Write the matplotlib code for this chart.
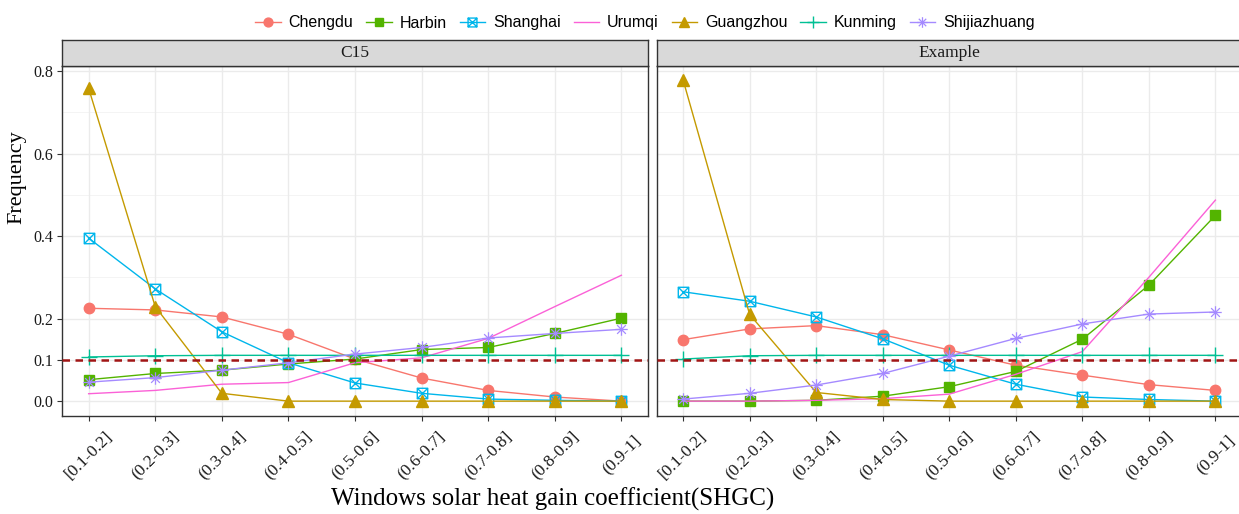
import matplotlib
matplotlib.use("Agg")
import matplotlib.pyplot as plt
import matplotlib.transforms as mtransforms
from matplotlib.path import Path

categories = ["[0.1-0.2]", "(0.2-0.3]", "(0.3-0.4]", "(0.4-0.5]", "(0.5-0.6]",
              "(0.6-0.7]", "(0.7-0.8]", "(0.8-0.9]", "(0.9-1]"]
cities = ["Chengdu", "Harbin", "Shanghai", "Urumqi", "Guangzhou", "Kunming", "Shijiazhuang"]

c15 = {
    "Chengdu":      [0.225, 0.221, 0.204, 0.162, 0.102, 0.056, 0.026, 0.010, 0.000],
    "Harbin":       [0.052, 0.067, 0.075, 0.090, 0.102, 0.125, 0.130, 0.164, 0.201],
    "Shanghai":     [0.395, 0.272, 0.168, 0.093, 0.044, 0.019, 0.005, 0.002, 0.000],
    "Urumqi":       [0.018, 0.026, 0.041, 0.045, 0.093, 0.105, 0.152, 0.229, 0.305],
    "Guangzhou":    [0.758, 0.229, 0.019, 0.000, 0.000, 0.000, 0.000, 0.000, 0.000],
    "Kunming":      [0.107, 0.110, 0.111, 0.111, 0.111, 0.111, 0.111, 0.111, 0.111],
    "Shijiazhuang": [0.046, 0.057, 0.075, 0.093, 0.114, 0.130, 0.153, 0.164, 0.174],
}
example = {
    "Chengdu":      [0.149, 0.175, 0.183, 0.161, 0.124, 0.087, 0.063, 0.040, 0.026],
    "Harbin":       [0.000, 0.000, 0.002, 0.012, 0.035, 0.072, 0.150, 0.281, 0.450],
    "Shanghai":     [0.265, 0.242, 0.204, 0.151, 0.087, 0.041, 0.010, 0.004, 0.000],
    "Urumqi":       [0.000, 0.000, 0.002, 0.006, 0.017, 0.065, 0.120, 0.300, 0.487],
    "Guangzhou":    [0.778, 0.210, 0.021, 0.004, 0.000, 0.000, 0.000, 0.000, 0.000],
    "Kunming":      [0.102, 0.110, 0.111, 0.111, 0.111, 0.111, 0.111, 0.111, 0.111],
    "Shijiazhuang": [0.005, 0.019, 0.039, 0.067, 0.109, 0.152, 0.187, 0.211, 0.216],
}
reference_level = 0.1

colors = {
    "Chengdu": "#F8766D", "Harbin": "#53B400", "Shanghai": "#00B6EB", "Urumqi": "#FB61D7",
    "Guangzhou": "#C49A00", "Kunming": "#00C094", "Shijiazhuang": "#A58AFF",
}

# square with a cross inside
box_x = Path([(-1, -1), (1, -1), (1, 1), (-1, 1), (-1, -1),
              (-1, -1), (1, 1), (-1, 1), (1, -1)],
             [Path.MOVETO, Path.LINETO, Path.LINETO, Path.LINETO, Path.CLOSEPOLY,
              Path.MOVETO, Path.LINETO, Path.MOVETO, Path.LINETO])
# eight-spoke asterisk
star8 = Path([(-1, 0), (1, 0), (0, -1), (0, 1), (-0.7, -0.7), (0.7, 0.7), (-0.7, 0.7), (0.7, -0.7)],
             [Path.MOVETO, Path.LINETO] * 4)

styles = {
    "Chengdu": dict(marker="o", ms=7.5),
    "Harbin": dict(marker="s", ms=7),
    "Shanghai": dict(marker=box_x, ms=7.5, mfc="none", mew=1.0),
    "Urumqi": dict(marker=""),
    "Guangzhou": dict(marker="^", ms=8.5),
    "Kunming": dict(marker="+", ms=11, mew=1.0),
    "Shijiazhuang": dict(marker=star8, ms=9, mew=0.9),
}

SERIF = ["Liberation Serif", "DejaVu Serif"]
SANS = ["Liberation Sans", "DejaVu Sans"]
W, H = 1239, 514
fig = plt.figure(figsize=(W / 100, H / 100), dpi=100)


def fx(px):
    return px / W


def fy(py):
    return 1 - py / H


panel_top, panel_bot, strip_top = 66, 416, 40
panels = [("C15", c15, 62, 648), ("Example", example, 656.5, 1242)]

handles = []
for i, (title, data, x0, x1) in enumerate(panels):
    ax = fig.add_axes([fx(x0), fy(panel_bot), fx(x1 - x0), (panel_bot - panel_top) / H])
    ax.set_facecolor("white")
    ax.set_xlim(-0.4, len(categories) - 0.6)
    ax.set_ylim(-0.036, 0.812)

    for y in [0.3, 0.5, 0.7]:
        ax.axhline(y, color="#F2F2F2", lw=0.6, zorder=0)
    for y in [0.0, 0.1, 0.2, 0.4, 0.6, 0.8]:
        ax.axhline(y, color="#EBEBEB", lw=1.0, zorder=0)
    for k in range(len(categories)):
        ax.axvline(k, color="#EBEBEB", lw=1.0, zorder=0)

    xs = range(len(categories))
    for city in cities:
        ln, = ax.plot(xs, data[city], color=colors[city], lw=1.0, zorder=3, **styles[city])
        if i == 0:
            handles.append(ln)

    ax.axhline(reference_level, color="#A11515", lw=1.8, ls=(0, (3, 2.2)), zorder=4)

    # category labels, rotated and centred under each tick
    ax.set_xticks(list(xs))
    ax.set_xticklabels([])
    lab_tr = mtransforms.blended_transform_factory(ax.transData, fig.transFigure)
    for k, lab in enumerate(categories):
        ax.text(k, fy(455), lab, transform=lab_tr, rotation=45, rotation_mode="anchor",
                ha="center", va="center", fontsize=12.5, family=SERIF, color="#1A1A1A")

    ax.set_yticks([0.0, 0.1, 0.2, 0.4, 0.6, 0.8])
    if i == 0:
        ax.set_yticklabels(["0.0", "0.1", "0.2", "0.4", "0.6", "0.8"],
                           fontsize=11.5, family=SERIF, color="#1A1A1A")
    else:
        ax.tick_params(axis="y", left=False, labelleft=False)
    ax.tick_params(length=3.5, width=0.8, color="#333333", pad=3)
    for sp in ax.spines.values():
        sp.set_color("#333333")
        sp.set_linewidth(1.0)

    sax = fig.add_axes([fx(x0), fy(panel_top), fx(x1 - x0), (panel_top - strip_top) / H])
    sax.set_facecolor("#D9D9D9")
    sax.set_xticks([])
    sax.set_yticks([])
    for sp in sax.spines.values():
        sp.set_color("#333333")
        sp.set_linewidth(1.0)
    sax.text(0.5, 0.5, title, transform=sax.transAxes, ha="center", va="center",
             fontsize=12.5, family=SERIF, color="#1A1A1A")

fig.text(fx(17), fy(177), "Frequency", rotation=90, ha="center", va="center",
         fontsize=16, family=SERIF)
fig.text(fx(553), fy(499), "Windows solar heat gain coefficient(SHGC)", ha="center",
         va="center", fontsize=18, family=SERIF)

fig.legend(handles, cities, loc="center", bbox_to_anchor=(fx(645), fy(23)), ncol=7,
           frameon=False, prop={"family": SANS, "size": 11.5}, markerscale=0.85,
           handlelength=1.6, handletextpad=0.5, columnspacing=0.8)

fig.savefig("out.png", dpi=100)
